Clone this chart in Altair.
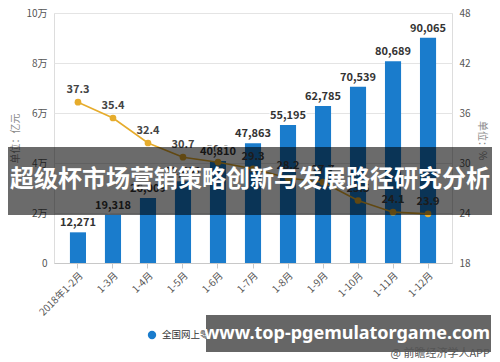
import altair as alt
import pandas as pd

categories = ["2018年1-2月", "1-3月", "1-4月", "1-5月", "1-6月", "1-7月",
              "1-8月", "1-9月", "1-10月", "1-11月", "1-12月"]
sales = [12271, 19318, 26009, 32691, 40810, 47863, 55195, 62785, 70539, 80689, 90065]
growth = [37.3, 35.4, 32.4, 30.7, 30.1, 29.3, 28.2, 27.7, 25.5, 24.1, 23.9]
series_names = ["全国网上零售额(亿元)", "增速(%)"]
left_ticks = [0, 20000, 40000, 60000, 80000, 100000]
right_ticks = [18, 24, 30, 36, 42, 48]
banner_text = ["超级杯市场营销策略创新与发展路径研究分析"]
watermark_text = ["www.top-pgemulatorgame.com"]
credit_text = ["@ 前瞻经济学人APP"]

BLUE = "#1a7ccc"
GOLD = "#e6ac2c"
FONT = "Noto Sans CJK SC"

df = pd.DataFrame({
    "cat": categories,
    "sales": sales,
    "growth": growth,
    "sales_label": [f"{v:,}" for v in sales],
    "growth_label": [f"{v}" for v in growth],
})

x_enc = alt.X("cat:N", sort=categories,
              scale=alt.Scale(paddingInner=0.54, paddingOuter=0.455),
              axis=alt.Axis(title=None, labelAngle=-45, labelFontSize=10,
                            labelColor="#555", domainColor="#c8c8c8",
                            tickColor="#c8c8c8", tickSize=5, grid=False,
                            labelFont=FONT))

y_left = alt.Y("sales:Q", scale=alt.Scale(domain=[0, 100000]),
               axis=alt.Axis(title="单位：亿元", values=left_ticks,
                             labelExpr="datum.value == 0 ? '0' : (datum.value / 10000) + '万'",
                             domain=False, ticks=False, labelPadding=7,
                             grid=True, gridColor="#e4e4e4", labelColor="#555",
                             labelFontSize=10, labelFont=FONT,
                             titleAngle=-90, titleX=-34, titleY=125,
                             titleAlign="center", titleBaseline="bottom",
                             titleFontSize=10, titleFontWeight="normal",
                             titleColor="#888", titleFont=FONT))

y_right = alt.Y("growth:Q", scale=alt.Scale(domain=[18, 48]),
                axis=alt.Axis(title="单位：%", orient="right", values=right_ticks,
                              domain=False, ticks=False, labelPadding=7,
                              grid=False, labelColor="#555", labelFontSize=10,
                              labelFont=FONT, titleAngle=90, titleX=24, titleY=127,
                              titleAlign="center", titleBaseline="bottom",
                              titleFontSize=10, titleFontWeight="normal",
                              titleColor="#888", titleFont=FONT))

y_left_plain = alt.Y("sales:Q", scale=alt.Scale(domain=[0, 100000]), axis=None)

base = alt.Chart(df)

bars = base.mark_bar(color=BLUE).encode(x=x_enc, y=y_left)

line = base.mark_line(strokeWidth=1.6, color=GOLD).encode(x=x_enc, y=y_right)
pts = base.mark_point(filled=True, size=45, opacity=1, color=GOLD).encode(
    x=x_enc, y=alt.Y("growth:Q"))
line_text = base.mark_text(dy=-12, fontWeight="bold", fontSize=11, color="#444",
                           font=FONT).encode(x=x_enc, y=alt.Y("growth:Q"), text="growth_label:N")
right_group = alt.layer(line, pts, line_text)

bar_halo = base.mark_text(dy=-9, fontWeight="bold", fontSize=11, color="white",
                          stroke="white", strokeWidth=3, font=FONT).encode(
    x=x_enc, y=y_left_plain, text="sales_label:N")
bar_text = base.mark_text(dy=-9, fontWeight="bold", fontSize=11, color="#333",
                          font=FONT).encode(x=x_enc, y=alt.Y("sales:Q"), text="sales_label:N")
label_group = alt.layer(bar_halo, bar_text)

# legend drawn as marks so the watermark can sit over it, as in the reference
leg_df = pd.DataFrame({"name": series_names})
leg1 = alt.Chart(leg_df.iloc[[0]])
leg_dot1 = leg1.mark_point(filled=True, size=70, opacity=1, color=BLUE).encode(
    x=alt.value(98), y=alt.value(322))
leg_txt1 = leg1.mark_text(fontSize=9.5, color="#333", font=FONT, align="left",
                          baseline="middle").encode(
    x=alt.value(108), y=alt.value(322), text="name:N")
leg2 = alt.Chart(leg_df.iloc[[1]])
leg_line2 = leg2.mark_rule(color=GOLD, strokeWidth=2).encode(
    x=alt.value(220), x2=alt.value(238), y=alt.value(322))
leg_dot2 = leg2.mark_point(filled=True, size=45, opacity=1, color=GOLD).encode(
    x=alt.value(229), y=alt.value(322))
leg_txt2 = leg2.mark_text(fontSize=9.5, color="#333", font=FONT, align="left",
                          baseline="middle").encode(
    x=alt.value(244), y=alt.value(322), text="name:N")

one = alt.Chart(pd.DataFrame({"t": banner_text}))
banner_rect = one.mark_rect(color="#000000", opacity=0.58).encode(
    x=alt.value(-46), x2=alt.value(438), y=alt.value(134), y2=alt.value(202))
banner = one.mark_text(color="white", fontSize=24, fontWeight="bold", font=FONT,
                       align="center", baseline="middle").encode(
    x=alt.value(196), y=alt.value(167), text="t:N")

wm = alt.Chart(pd.DataFrame({"t": watermark_text}))
wm_rect = wm.mark_rect(color="#666666", opacity=1).encode(
    x=alt.value(152), x2=alt.value(437), y=alt.value(302), y2=alt.value(339))
wm_txt = wm.mark_text(color="white", fontSize=18, fontWeight="bold", font="Noto Sans",
                      align="center", baseline="middle").encode(
    x=alt.value(293), y=alt.value(321), text="t:N")

cr = alt.Chart(pd.DataFrame({"t": credit_text}))
cr_txt = cr.mark_text(color="#555", fontSize=11, font=FONT, align="right",
                      baseline="middle").encode(
    x=alt.value(436), y=alt.value(341), text="t:N")

chart = alt.layer(bars, right_group, label_group,
                  leg_dot1, leg_txt1, leg_line2, leg_dot2, leg_txt2,
                  banner_rect, banner, wm_rect, wm_txt, cr_txt).resolve_scale(
    y="independent"
).properties(
    width=398, height=250,
    autosize=alt.AutoSizeParams(type="none"),
    padding={"left": 46, "top": 5, "right": 40, "bottom": 99},
).configure_view(stroke=None).configure(background="white")

chart.save("out.html", embed_options={"renderer": "svg", "actions": False})
